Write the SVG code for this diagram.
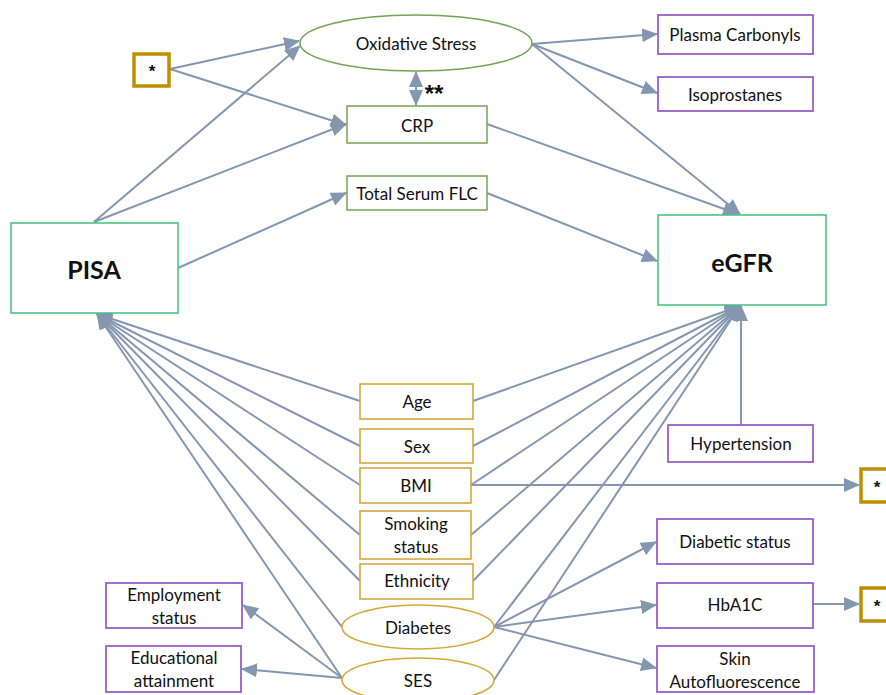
<svg xmlns="http://www.w3.org/2000/svg" width="886" height="695" viewBox="0 0 886 695">
<defs>
<marker id="ah" markerUnits="userSpaceOnUse" markerWidth="16" markerHeight="14" refX="15" refY="7" orient="auto-start-reverse" viewBox="0 0 16 14">
<path d="M0,0 L16,7 L0,14 z" fill="#8497b0"/>
</marker>
<style>
text{font-family:Lato,"Liberation Sans",sans-serif;font-size:17px;fill:#111;text-anchor:middle;dominant-baseline:central}
.b{font-weight:bold;font-size:25px}
.st{font-family:"Liberation Sans",sans-serif;font-weight:bold;font-size:17px}
.c line{stroke:#8497b0;stroke-width:2;marker-end:url(#ah)}
.g{fill:#fff;stroke:#77a353;stroke-width:1.5}
.gg{fill:#fff;stroke:#3cc47c;stroke-width:1.5}
.p{fill:#fff;stroke:#9b5fc8;stroke-width:1.8}
.y{fill:#fff;stroke:#d4a93a;stroke-width:1.6}
.s{fill:#fff;stroke:#bf8f00;stroke-width:3.5}
</style>
</defs>
<rect width="886" height="695" fill="#fff"/>
<g class="c" id="connectors">
<line x1="170" y1="69" x2="299" y2="41"/>
<line x1="170" y1="69" x2="346" y2="125"/>
<line x1="94" y1="222" x2="300" y2="46"/>
<line x1="94" y1="222" x2="346" y2="124"/>
<line x1="178" y1="268" x2="346" y2="193"/>
<line x1="416" y1="72" x2="416" y2="105" style="marker-start:url(#ah)"/>
<line x1="532" y1="44" x2="657" y2="34"/>
<line x1="532" y1="44" x2="657" y2="93"/>
<line x1="532" y1="44" x2="740" y2="214"/>
<line x1="487" y1="124" x2="738" y2="214"/>
<line x1="487" y1="193" x2="657" y2="261"/>
<line x1="741" y1="425" x2="741" y2="306"/>
<line x1="473" y1="401" x2="740" y2="306"/>
<line x1="473" y1="446" x2="740" y2="306"/>
<line x1="471" y1="485" x2="740" y2="306"/>
<line x1="471" y1="535" x2="740" y2="306"/>
<line x1="473" y1="581" x2="740" y2="306"/>
<line x1="494" y1="627" x2="740" y2="306"/>
<line x1="494" y1="680" x2="740" y2="306"/>
<line x1="360" y1="401" x2="97" y2="314"/>
<line x1="360" y1="446" x2="97" y2="314"/>
<line x1="360" y1="485" x2="97" y2="314"/>
<line x1="360" y1="535" x2="97" y2="314"/>
<line x1="360" y1="581" x2="97" y2="314"/>
<line x1="342" y1="627" x2="97" y2="314"/>
<line x1="342" y1="678" x2="97" y2="314"/>
<line x1="342" y1="678" x2="243" y2="605"/>
<line x1="342" y1="678" x2="242" y2="669"/>
<line x1="471" y1="485" x2="859" y2="485"/>
<line x1="494" y1="627" x2="656" y2="542"/>
<line x1="494" y1="627" x2="656" y2="605"/>
<line x1="494" y1="627" x2="656" y2="668"/>
<line x1="813" y1="604" x2="859" y2="604"/>
</g>
<g id="star1"><rect class="s" x="134" y="54" width="35" height="32"/><text class="st" x="152" y="71">*</text></g>
<g id="oxidative"><ellipse class="g" cx="416" cy="43" rx="116" ry="28"/><text x="416" y="43">Oxidative Stress</text></g>
<text class="st" x="434" y="93" style="font-size:24px">**</text>
<g id="crp"><rect class="g" x="347" y="106" width="140" height="37"/><text x="417" y="125">CRP</text></g>
<g id="flc"><rect class="g" x="347" y="176" width="140" height="34"/><text x="417" y="193">Total Serum FLC</text></g>
<g id="plasma"><rect class="p" x="658" y="15" width="155" height="39"/><text x="735" y="34">Plasma Carbonyls</text></g>
<g id="iso"><rect class="p" x="658" y="77" width="155" height="34"/><text x="735" y="94">Isoprostanes</text></g>
<g id="egfr"><rect class="gg" x="658" y="215" width="168" height="90"/><text class="b" x="742" y="262">eGFR</text></g>
<g id="pisa"><rect class="gg" x="11" y="223" width="167" height="90"/><text class="b" x="94" y="269">PISA</text></g>
<g id="age"><rect class="y" x="360" y="384" width="113" height="35"/><text x="417" y="401">Age</text></g>
<g id="sex"><rect class="y" x="360" y="429" width="113" height="34"/><text x="417" y="446">Sex</text></g>
<g id="bmi"><rect class="y" x="360" y="468" width="111" height="35"/><text x="416" y="485">BMI</text></g>
<g id="smoking"><rect class="y" x="360" y="511" width="111" height="48"/><text x="416" y="523">Smoking</text><text x="416" y="546">status</text></g>
<g id="ethnicity"><rect class="y" x="360" y="564" width="113" height="35"/><text x="417" y="580">Ethnicity</text></g>
<g id="diabetes"><ellipse class="y" cx="418" cy="627" rx="76" ry="22"/><text x="418" y="627">Diabetes</text></g>
<g id="ses"><ellipse class="y" cx="418" cy="680" rx="76" ry="22"/><text x="418" y="680">SES</text></g>
<g id="hypertension"><rect class="p" x="668" y="425" width="145" height="37"/><text x="741" y="443">Hypertension</text></g>
<g id="star2"><rect class="s" x="861" y="469" width="40" height="33"/><text class="st" x="877" y="487">*</text></g>
<g id="diabstatus"><rect class="p" x="657" y="519" width="156" height="45"/><text x="735" y="541">Diabetic status</text></g>
<g id="hba1c"><rect class="p" x="657" y="583" width="156" height="45"/><text x="735" y="604">HbA1C</text></g>
<g id="star3"><rect class="s" x="861" y="588" width="40" height="33"/><text class="st" x="877" y="606">*</text></g>
<g id="skin"><rect class="p" x="657" y="646" width="157" height="46"/><text x="735" y="658">Skin</text><text x="735" y="681">Autofluorescence</text></g>
<g id="employment"><rect class="p" x="106" y="583" width="136" height="45"/><text x="174" y="594">Employment</text><text x="174" y="617">status</text></g>
<g id="education"><rect class="p" x="106" y="646" width="135" height="46"/><text x="174" y="657">Educational</text><text x="174" y="680">attainment</text></g>
</svg>
